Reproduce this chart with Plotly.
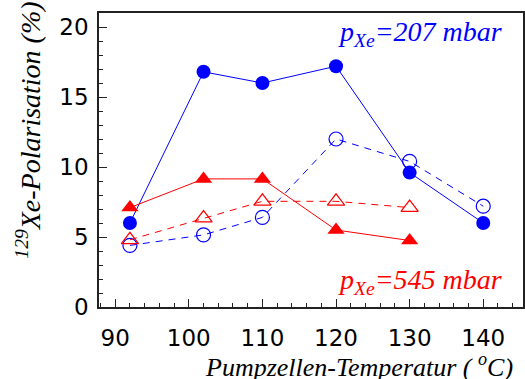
import plotly.graph_objects as go

temps = [92, 102, 110, 120, 130, 140]
blue_filled = [6.0, 16.8, 16.0, 17.2, 9.6, 6.0]
blue_open = [4.4, 5.15, 6.4, 12.0, 10.4, 7.2]
temps_red = [92, 102, 110, 120, 130]
red_filled = [7.1, 9.15, 9.15, 5.5, 4.75]
red_open = [4.8, 6.35, 7.55, 7.55, 7.1]

BLUE = "rgb(0,0,255)"
RED = "rgb(255,0,0)"
SERIF = "'Liberation Serif', 'Times New Roman', Times, 'DejaVu Serif', serif"

fig = go.Figure()
fig.add_trace(go.Scatter(x=temps, y=blue_open, mode="lines+markers",
    line=dict(color=BLUE, width=1, dash="7px,6px"),
    marker=dict(symbol="circle-open", size=14, color=BLUE, line=dict(width=1.2, color=BLUE))))
fig.add_trace(go.Scatter(x=temps_red, y=red_open, mode="lines+markers",
    line=dict(color=RED, width=1, dash="7px,6px"),
    marker=dict(symbol="triangle-up-open", size=15, color=RED, line=dict(width=1.2, color=RED))))
fig.add_trace(go.Scatter(x=temps, y=blue_filled, mode="lines+markers",
    line=dict(color=BLUE, width=1),
    marker=dict(symbol="circle", size=14, color=BLUE)))
fig.add_trace(go.Scatter(x=temps_red, y=red_filled, mode="lines+markers",
    line=dict(color=RED, width=1),
    marker=dict(symbol="triangle-up", size=15, color=RED)))

axis_common = dict(showgrid=False, zeroline=False, showline=True, linecolor="#222",
                   linewidth=1.5, mirror=True, ticks="inside", tickcolor="#222",
                   automargin=False,
                   tickfont=dict(family="DejaVu Sans", size=23, color="black"))

fig.update_xaxes(range=[87.8, 145.4], tickvals=[90, 100, 110, 120, 130, 140], ticklen=8,
                 minor=dict(dtick=2, tick0=90, ticklen=4, ticks="inside", tickcolor="#222"),
                 ticklabelstandoff=10, **axis_common)
fig.update_yaxes(range=[0, 21], tickvals=[0, 5, 10, 15, 20], ticklen=8,
                 minor=dict(dtick=1, ticklen=4, ticks="inside", tickcolor="#222"),
                 ticklabelstandoff=4, **axis_common)

title_font = dict(family=SERIF, size=26, color="black")
fig.add_annotation(text="<i>Pumpzellen-Temperatur ( <sup>o</sup>C)</i>", xref="paper", yref="paper",
                   x=0.98, y=-0.135, xanchor="right", yanchor="top", showarrow=False, font=title_font)
fig.add_annotation(text="<i><sup>129</sup>Xe-Polarisation (%)</i>", xref="paper", yref="paper",
                   x=-0.165, y=0.60, xanchor="center", yanchor="middle", textangle=-90, showarrow=False,
                   font=dict(family=SERIF, size=28, color="black"))

fig.add_annotation(text="<i>p<sub>Xe</sub>=207 mbar</i>", xref="paper", yref="paper",
                   x=0.955, y=0.995, xanchor="right", yanchor="top", showarrow=False,
                   font=dict(family=SERIF, size=28, color=BLUE))
fig.add_annotation(text="<i>p<sub>Xe</sub>=545 mbar</i>", xref="paper", yref="paper",
                   x=0.955, y=0.153, xanchor="right", yanchor="top", showarrow=False,
                   font=dict(family=SERIF, size=28, color=RED))

fig.update_layout(width=525, height=379, margin=dict(l=99, r=2, t=13, b=72, autoexpand=False),
                  modebar=dict(bgcolor="rgba(0,0,0,0)", color="rgba(0,0,0,0)",
                               activecolor="rgba(0,0,0,0)"),
                  paper_bgcolor="white", plot_bgcolor="white", showlegend=False)
fig.write_html("out.html",
               post_script=("document.body.style.margin='0';document.body.style.overflow='hidden';"
                            "var s=document.createElement('style');"
                            "s.textContent='.modebar-container{display:none !important}';"
                            "document.head.appendChild(s);"))
